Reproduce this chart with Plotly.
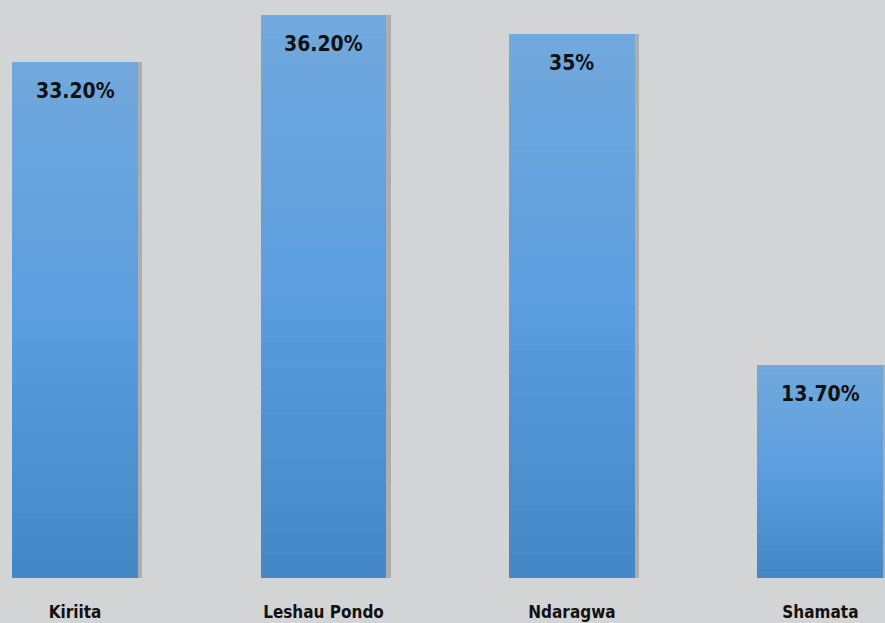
import plotly.graph_objects as go

categories = ["Kiriita", "Leshau Pondo", "Ndaragwa", "Shamata"]
values = [33.2, 36.2, 35.0, 13.7]
labels = ["33.20%", "36.20%", "35%", "13.70%"]

FONT = "DejaVu Sans Condensed, Liberation Sans Narrow, Roboto, sans-serif"
BG = "#d3d4d6"
N_SEG = 24
top_c = (113, 168, 221)
mid_c = (91, 158, 223)
bot_c = (69, 136, 200)


def lerp(a, b, t):
    return tuple(int(round(a[i] + (b[i] - a[i]) * t)) for i in range(3))


def seg_color(k):
    t = k / (N_SEG - 1)
    if t < 0.5:
        c = lerp(bot_c, mid_c, t / 0.5)
    else:
        c = lerp(mid_c, top_c, (t - 0.5) / 0.5)
    return "rgb(%d,%d,%d)" % c


BAR_W = 0.507
fig = go.Figure()

# soft shadow behind bars (base axis, drawn first)
fig.add_trace(go.Bar(
    x=categories, y=values, width=BAR_W, offset=-BAR_W / 2 + 0.018,
    marker=dict(color="rgba(165,166,168,0.85)", line=dict(width=0)),
    hoverinfo="skip", showlegend=False,
))

# gradient bars as stacked slices of each value (overlay axis, drawn on top)
for k in range(N_SEG):
    fig.add_trace(go.Bar(
        x=categories, y=[v / N_SEG for v in values], width=BAR_W,
        marker=dict(color=seg_color(k), line=dict(width=0)),
        xaxis="x2", hoverinfo="skip", showlegend=False,
    ))

for c, v, t in zip(categories, values, labels):
    fig.add_annotation(
        x=c, y=v, xref="x", yref="y", text="<b>%s</b>" % t, showarrow=False,
        yanchor="top", yshift=-15,
        font=dict(family=FONT, size=21, color="#111111"),
    )

fig.update_layout(
    width=885, height=623,
    margin=dict(l=0, r=0, t=0, b=45),
    paper_bgcolor=BG, plot_bgcolor=BG,
    barmode="stack", bargap=0.49,
    xaxis=dict(range=[-0.302, 3.26], showgrid=False, zeroline=False, showline=False,
               ticks="", ticklabelstandoff=22,
               tickfont=dict(family=FONT, size=17, color="#111111"),
               tickvals=categories, ticktext=["<b>%s</b>" % c for c in categories]),
    xaxis2=dict(range=[-0.302, 3.26], overlaying="x", visible=False),
    yaxis=dict(range=[0, 37.17], visible=False, showgrid=False, zeroline=False),
)

fig.write_html("out.html", config={"displayModeBar": False},
               post_script="document.body.style.margin='0';document.body.style.background='#d3d4d6';")
